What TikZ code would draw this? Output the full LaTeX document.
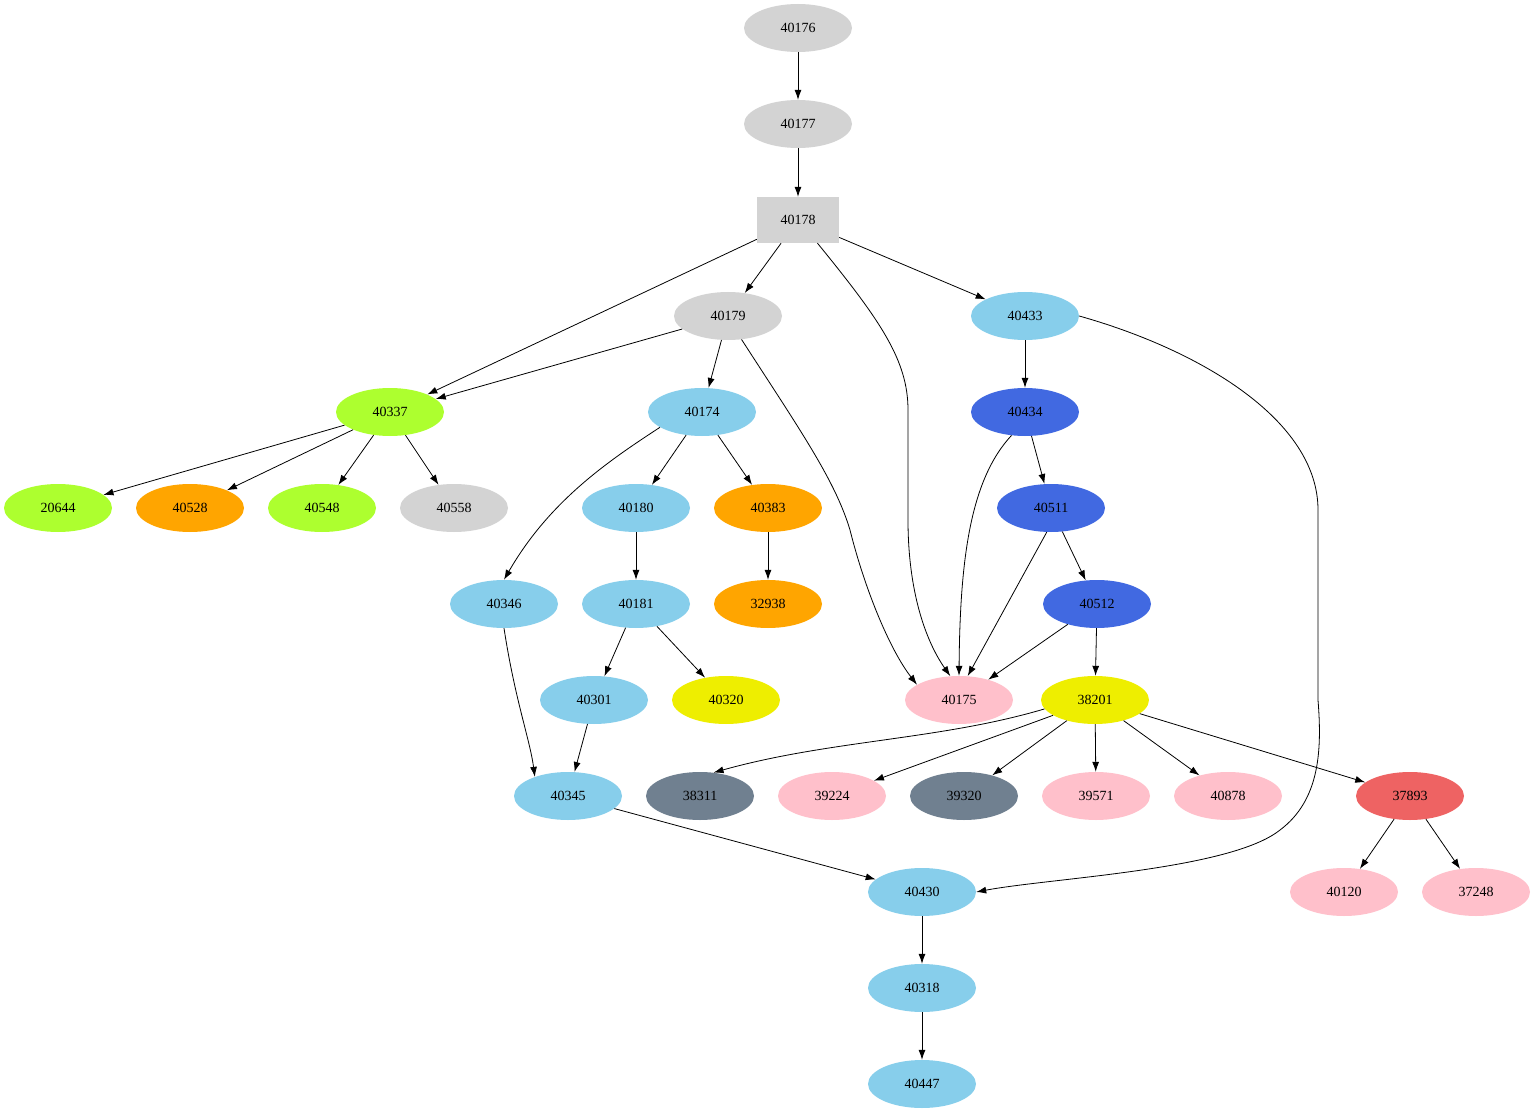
\documentclass[tikz,border=0pt]{standalone}
\usepackage{fontspec}
\setmainfont{Liberation Serif}
\usetikzlibrary{arrows.meta,shapes.geometric}
\definecolor{gr}{HTML}{D3D3D3}
\definecolor{sb}{HTML}{87CEEB}
\definecolor{gy}{HTML}{ADFF2F}
\definecolor{og}{HTML}{FFA500}
\definecolor{rb}{HTML}{4169E1}
\definecolor{pk}{HTML}{FFC0CB}
\definecolor{yl}{HTML}{EEEE00}
\definecolor{sg}{HTML}{708090}
\definecolor{ir}{HTML}{EE6363}
\begin{document}
\begin{tikzpicture}[x=1pt,y=-1pt,
 n/.style={ellipse,minimum width=108pt,minimum height=48pt,inner sep=0pt,font=\fontsize{14}{16}\selectfont},
 e/.style={draw,-{Latex[length=10pt,width=7pt]},line width=0.8pt}]
\useasboundingbox (0,0) rectangle (1534,1115);
\def\N#1#2#3#4{\node[n,fill=#4] (#1) at (#2,#3) {#1};}
\N{40176}{798}{28}{gr}
\N{40177}{798}{124}{gr}
\node[rectangle,fill=gr,minimum width=82pt,minimum height=46pt,font=\fontsize{14}{16}\selectfont] (40178) at (798,220) {40178};
\N{40179}{728}{316}{gr}
\N{40433}{1025}{316}{sb}
\N{40337}{390}{412}{gy}
\N{40174}{702}{412}{sb}
\N{40434}{1025}{412}{rb}
\N{20644}{58}{508}{gy}
\N{40528}{190}{508}{og}
\N{40548}{322}{508}{gy}
\N{40558}{454}{508}{gr}
\N{40180}{636}{508}{sb}
\N{40383}{768}{508}{og}
\N{40511}{1051}{508}{rb}
\N{40346}{504}{604}{sb}
\N{40181}{636}{604}{sb}
\N{32938}{768}{604}{og}
\N{40512}{1097}{604}{rb}
\N{40301}{594}{700}{sb}
\N{40320}{726}{700}{yl}
\N{40175}{959}{700}{pk}
\N{38201}{1095}{700}{yl}
\N{40345}{568}{796}{sb}
\N{38311}{700}{796}{sg}
\N{39224}{832}{796}{pk}
\N{39320}{964}{796}{sg}
\N{39571}{1096}{796}{pk}
\N{40878}{1228}{796}{pk}
\N{37893}{1410}{796}{ir}
\N{40430}{922}{892}{sb}
\N{40120}{1344}{892}{pk}
\N{37248}{1476}{892}{pk}
\N{40318}{922}{988}{sb}
\N{40447}{922}{1084}{sb}
\draw[e] (40176)--(40177);
\draw[e] (40177)--(40178);
\draw[e] (40178)--(40179);
\draw[e] (40178)--(40433);
\draw[e] (40178)--(40337);
\draw[e] (40178.-50) .. controls (880,320) and (908,360) .. (908,410) -- (908,520) .. controls (908,590) and (925,640) .. (40175.110);
\draw[e] (40179)--(40337);
\draw[e] (40179)--(40174);
\draw[e] (40179.-60) .. controls (800,430) and (835,480) .. (850,530) .. controls (865,590) and (890,650) .. (40175.160);
\draw[e] (40433)--(40434);
\draw[e] (40433.east) .. controls (1200,350) and (1318,420) .. (1318,510) -- (1318,700) .. controls (1322,750) and (1320,800) .. (1280,830) .. controls (1230,870) and (1050,878) .. (40430.east);
\draw[e] (40337)--(20644);
\draw[e] (40337)--(40528);
\draw[e] (40337)--(40548);
\draw[e] (40337)--(40558);
\draw[e] (40174)--(40180);
\draw[e] (40174)--(40383);
\draw[e] (40174.200) .. controls (610,460) and (550,500) .. (40346.north);
\draw[e] (40434)--(40511);
\draw[e] (40434.240) .. controls (970,480) and (960,560) .. (40175.north);
\draw[e] (40180)--(40181);
\draw[e] (40383)--(32938);
\draw[e] (40511)--(40512);
\draw[e] (40511.260)--(40175.70);
\draw[e] (40346.south) .. controls (515,700) and (530,740) .. (40345.150);
\draw[e] (40181)--(40301);
\draw[e] (40181)--(40320);
\draw[e] (40512)--(40175);
\draw[e] (40512)--(38201);
\draw[e] (40301)--(40345);
\draw[e] (38201.190) .. controls (940,740) and (830,740) .. (38311.60);
\draw[e] (38201)--(39224);
\draw[e] (38201)--(39320);
\draw[e] (38201)--(39571);
\draw[e] (38201)--(40878);
\draw[e] (38201)--(37893);
\draw[e] (37893)--(40120);
\draw[e] (37893)--(37248);
\draw[e] (40345)--(40430);
\draw[e] (40430)--(40318);
\draw[e] (40318)--(40447);
\end{tikzpicture}
\end{document}
